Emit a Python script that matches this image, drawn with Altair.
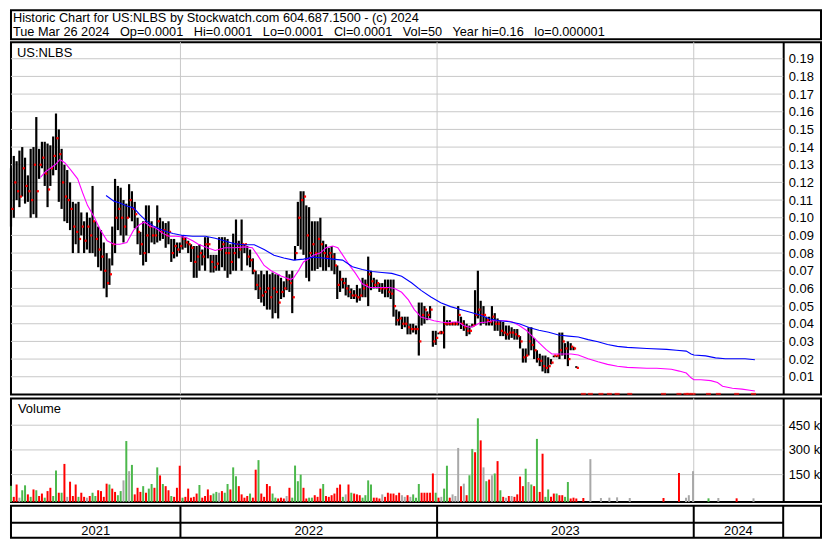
import altair as alt
import numpy as np
import pandas as pd

FONT = "Liberation Sans"
GRID = "#c8c8c8"

# ---------------- text ----------------
SEP = "\u00a0\u00a0 "
header_lines = [
    "Historic Chart for US:NLBS by Stockwatch.com 604.687.1500 - (c) 2024",
    "Tue Mar 26 2024" + SEP + "Op=0.0001" + SEP + "Hi=0.0001" + SEP + "Lo=0.0001" + SEP
    + "Cl=0.0001" + SEP + "Vol=50" + SEP + "Year hi=0.16" + SEP + "lo=0.000001",
]
symbol_label = ["US:NLBS"]
volume_label = ["Volume"]

# ---------------- price bars (one bar every 4 calendar days) ----------------
bar_start = "2021-05-05"
bar_step_days = 4

high = [
    .128, .135, .132, .138, .140, .134, .124, .139, .140, .157,
    .139, .143, .143, .142, .141, .146, .159, .150, .139, .130,
    .127, .120, .109, .108, .109, .103, .098, .103, .100, .118,
    .098, .095, .093, .086, .080, .077, .095, .122, .118, .117,
    .110, .108, .119, .115, .109, .100, .092, .098, .107, .107,
    .098, .095, .107, .100, .098, .097, .098, .088, .088, .086,
    .086, .090, .089, .087, .085, .084, .084, .085, .082, .089,
    .089, .079, .079, .079, .089, .089, .089, .088, .085, .091,
    .099, .087, .099, .085, .084, .082, .077, .070, .068, .070,
    .068, .070, .068, .069, .068, .068, .066, .064, .070, .068,
    .070, .084, .109, .115, .115, .107, .106, .098, .098, .098,
    .100, .087, .085, .083, .084, .080, .073, .070, .066, .066,
    .062, .060, .059, .062, .060, .066, .065, .078, .070, .066,
    .065, .063, .063, .065, .065, .065, .065, .048, .047, .044,
    .044, .044, .040, .040, .039, .052, .052, .050, .047, .050,
    .036, .036, .035, .036, .050, .042, .042, .041, .041, .050,
    .044, .042, .040, .039, .040, .059, .070, .053, .050, .044,
    .044, .050, .046, .043, .042, .041, .039, .039, .038, .037,
    .037, .033, .026, .026, .038, .038, .032, .025, .023, .022,
    .022, .021, .020, .022, .022, .035, .035, .029, .030, .029,
    .027, .016,
]
low = [
    .095, .100, .110, .106, .112, .108, .109, .100, .102, .100,
    .122, .128, .118, .106, .118, .124, .127, .109, .105, .098,
    .097, .093, .080, .085, .080, .090, .080, .082, .080, .080,
    .078, .072, .070, .060, .055, .062, .073, .080, .093, .090,
    .086, .090, .100, .098, .094, .085, .079, .073, .075, .080,
    .086, .085, .086, .087, .088, .083, .085, .075, .077, .078,
    .080, .082, .083, .080, .075, .066, .066, .070, .073, .070,
    .077, .069, .069, .070, .070, .072, .070, .066, .068, .070,
    .070, .077, .070, .080, .073, .072, .068, .059, .054, .052,
    .050, .048, .048, .043, .046, .043, .054, .055, .059, .058,
    .046, .076, .084, .082, .079, .066, .064, .070, .070, .071,
    .072, .070, .070, .072, .070, .068, .054, .058, .060, .056,
    .055, .054, .054, .052, .053, .055, .055, .050, .059, .060,
    .060, .058, .057, .055, .055, .054, .044, .039, .039, .037,
    .038, .034, .034, .035, .034, .022, .039, .040, .042, .043,
    .027, .028, .034, .034, .026, .039, .039, .039, .039, .039,
    .037, .036, .033, .034, .038, .039, .043, .039, .040, .039,
    .039, .039, .036, .036, .033, .033, .031, .031, .032, .031,
    .031, .026, .018, .018, .022, .025, .020, .018, .016, .013,
    .012, .012, .017, .021, .021, .020, .022, .020, .016, .025,
    .025, .015,
]
close = [
    .105, .120, .115, .112, .128, .118, .115, .110, .130, .115,
    .130, .134, .125, .116, .128, .135, .145, .136, .120, .112,
    .110, .105, .095, .092, .088, .095, .087, .095, .090, .098,
    .088, .082, .078, .070, .063, .068, .085, .100, .105, .100,
    .095, .100, .110, .105, .102, .092, .085, .080, .090, .095,
    .090, .090, .098, .092, .093, .090, .092, .080, .084, .082,
    .084, .088, .086, .085, .083, .075, .078, .080, .078, .085,
    .085, .075, .072, .074, .082, .085, .080, .080, .075, .080,
    .085, .082, .085, .085, .078, .076, .070, .062, .060, .056,
    .058, .060, .055, .060, .058, .052, .058, .060, .065, .063,
    .055, .080, .100, .110, .112, .090, .080, .085, .080, .088,
    .085, .080, .078, .080, .078, .073, .062, .065, .063, .060,
    .058, .056, .056, .055, .056, .060, .062, .068, .064, .062,
    .063, .060, .060, .060, .058, .057, .050, .042, .043, .040,
    .040, .038, .037, .037, .037, .030, .045, .048, .045, .048,
    .030, .032, .035, .035, .040, .040, .040, .040, .040, .045,
    .040, .038, .036, .036, .039, .045, .048, .045, .045, .042,
    .041, .044, .040, .040, .036, .035, .034, .035, .035, .034,
    .033, .030, .021, .022, .030, .028, .025, .020, .019, .016,
    .015, .016, .018, .022, .022, .025, .030, .026, .020, .027,
    .026, .015,
]
# volume in thousands, direction: G = up, R = down, N = unchanged
volume = [
    82, 15, 90, 10, 55, 85, 30, 15, 60, 55,
    20, 35, 10, 50, 70, 20, 175, 40, 40, 215,
    15, 107, 20, 90, 15, 40, 15, 10, 20, 40,
    20, 55, 50, 15, 95, 90, 65, 45, 25, 50,
    115, 354, 171, 209, 30, 70, 45, 80, 40, 65,
    93, 70, 194, 145, 93, 80, 55, 20, 15, 70,
    204, 10, 15, 65, 10, 15, 35, 87, 10, 20,
    60, 25, 35, 45, 40, 50, 40, 93, 60, 194,
    140, 80, 30, 10, 20, 35, 10, 180, 238, 35,
    15, 93, 80, 35, 10, 5, 10, 5, 20, 70,
    10, 205, 110, 150, 70, 5, 10, 10, 25, 15,
    65, 93, 20, 15, 25, 35, 70, 90, 15, 30,
    90, 40, 35, 30, 25, 10, 25, 115, 90, 10,
    10, 5, 30, 15, 40, 35, 35, 25, 40, 25,
    15, 25, 15, 30, 10, 93, 40, 40, 40, 40,
    157, 40, 10, 15, 65, 204, 10, 30, 20, 312,
    80, 95, 25, 146, 306, 286, 492, 358, 194, 110,
    120, 146, 157, 232, 55, 15, 10, 20, 20, 15,
    30, 138, 80, 186, 105, 90, 80, 367, 45, 277,
    15, 60, 15, 35, 35, 25, 25, 15, 105, 5,
    10, 5,
]
vol_dir = [
    "G", "R", "R", "N", "G", "G", "R", "G", "R", "G",
    "R", "R", "G", "R", "R", "G", "G", "R", "G", "R",
    "N", "R", "R", "R", "G", "R", "R", "N", "R", "G",
    "G", "R", "R", "R", "R", "G", "R", "R", "G", "G",
    "N", "G", "N", "G", "R", "R", "R", "G", "R", "G",
    "G", "R", "G", "R", "G", "R", "R", "G", "R", "R",
    "R", "G", "R", "R", "R", "R", "R", "G", "R", "R",
    "R", "R", "G", "G", "N", "R", "G", "G", "R", "G",
    "G", "R", "R", "R", "R", "G", "R", "R", "G", "R",
    "R", "R", "R", "G", "G", "R", "R", "R", "N", "R",
    "G", "G", "G", "G", "R", "R", "G", "G", "R", "R",
    "R", "G", "R", "R", "R", "R", "R", "R", "G", "N",
    "R", "G", "R", "R", "R", "G", "G", "G", "G", "R",
    "R", "R", "N", "R", "R", "R", "R", "R", "R", "N",
    "N", "R", "N", "G", "G", "G", "R", "R", "R", "R",
    "R", "G", "R", "N", "G", "G", "R", "N", "N", "N",
    "R", "N", "R", "G", "G", "R", "G", "R", "N", "G",
    "R", "N", "G", "R", "G", "R", "N", "R", "N", "R",
    "R", "R", "R", "G", "N", "G", "R", "G", "R", "R",
    "G", "G", "R", "R", "G", "R", "R", "G", "G", "R",
    "R", "R",
]

# late, near-zero trading days
late_dates = ["2023-07-28", "2023-08-07", "2023-08-22", "2023-09-03", "2023-09-14",
              "2023-10-02", "2023-11-19", "2023-12-11", "2023-12-21", "2023-12-25",
              "2023-12-31", "2024-01-22", "2024-02-05", "2024-03-02", "2024-03-26"]
late_close = [0.0003, 0.0003, 0.0003, 0.0003, 0.0003, 0.0003, 0.0003, 0.0003,
              0.0003, 0.0003, 0.0003, 0.0003, 0.0003, 0.0003, 0.0003]
late_volume = [8, 244, 8, 10, 12, 8, 8, 160, 10, 25, 171, 6, 8, 6, 6]
late_dir = ["R", "N", "N", "N", "N", "N", "R", "R", "N", "N", "N", "G", "N", "R", "N"]

# moving averages, positioned by bar index (4-day steps from bar_start)
ma_short_idx = [10.5, 12.2, 14.0, 15.7, 17.4, 19.2, 21.3, 23.7, 25.5, 27.2,
                29.7, 31.8, 34.2, 36.6, 38.7, 41.2, 43.6, 45.7, 47.5, 49.2,
                51.6, 54.1, 56.2, 58.6, 62.1, 64.6, 66.6, 69.1, 72.6, 76.1,
                79.6, 83.0, 85.8, 87.6, 90.0, 92.5, 96.0, 99.4, 100.5, 102.2,
                104.0, 105.7, 107.5, 109.9, 112.0, 114.4, 116.2, 117.9, 120.4, 122.5,
                124.9, 127.4, 130.8, 134.3, 136.4, 138.9, 141.3, 143.4, 145.8, 148.3,
                150.4, 152.8, 155.3, 157.4, 159.1, 160.9, 163.3, 165.0, 166.8, 169.2,
                171.3, 173.8, 176.2, 178.3, 180.7, 183.2, 185.3, 187.7, 190.2, 192.3,
                194.7, 199.2, 201.7, 205.2, 208.7, 212.1, 215.6, 219.1, 226.1, 229.6,
                234.8, 237.6, 240.1, 241.8, 242.8, 245.3, 248.8, 251.2, 253.0, 256.5,
                259.9, 262.7, 264.5]
ma_short_val = [.1228, .126, .128, .130, .133, .131, .127, .122, .114, .107,
                .100, .093, .087, .085, .085, .086, .093, .096, .0976, .0955,
                .094, .091, .0895, .0895, .089, .087, .085, .0835, .0815, .083,
                .083, .0835, .083, .079, .073, .070, .067, .065, .066, .070,
                .075, .0766, .0788, .080, .083, .084, .083, .079, .073, .0685,
                .0626, .0605, .0605, .0605, .060, .0578, .0535, .048, .0438, .0427,
                .0417, .041, .0406, .041, .041, .039, .0379, .039, .0406, .041,
                .0417, .0417, .0417, .041, .039, .0363, .033, .0293, .0255, .0229,
                .0229, .0229, .0223, .0202, .0185, .017, .0159, .0153, .0148, .0148,
                .0142, .0132, .0121, .0094, .0083, .0083, .0078, .0067, .0046, .0035,
                .003, .0024, .0019]
ma_long_idx = [33.8, 36.6, 38.7, 41.2, 43.6, 45.7, 48.2, 50.6, 52.7, 55.1,
               57.6, 61.1, 64.6, 69.1, 72.6, 76.1, 79.6, 83.0, 86.5, 90.0,
               93.5, 97.0, 100.5, 104.0, 107.5, 111.0, 114.4, 117.9, 121.4, 124.9,
               128.4, 131.9, 135.4, 138.9, 142.4, 145.8, 149.3, 152.8, 156.3, 159.8,
               163.3, 166.8, 170.3, 173.8, 177.3, 180.7, 184.2, 187.7, 191.2, 194.7,
               198.2, 201.7, 205.2, 208.7, 212.1, 215.6, 219.1, 226.1, 233.1, 236.6,
               240.1, 241.8, 242.8, 247.0, 250.5, 254.0, 261.0, 264.5]
ma_long_val = [.1126, .1094, .1083, .1067, .1056, .1019, .0981, .0954, .0938, .0922,
               .0911, .090, .0895, .0895, .0884, .0868, .0852, .0847, .0847, .082,
               .0788, .0772, .076, .0766, .0777, .0772, .0766, .076, .0723, .0707,
               .0696, .069, .0685, .0669, .0632, .0589, .0551, .0519, .0497, .0481,
               .0465, .0449, .0427, .0417, .0411, .040, .0379, .0363, .0352, .0336,
               .033, .0325, .031, .0298, .0282, .0272, .0266, .026, .0255, .025,
               .0245, .0229, .0223, .0218, .0207, .0202, .0202, .0196]

price_ticks = [0.01, 0.02, 0.03, 0.04, 0.05, 0.06, 0.07, 0.08, 0.09, 0.10,
               0.11, 0.12, 0.13, 0.14, 0.15, 0.16, 0.17, 0.18, 0.19]
volume_ticks = [150, 300, 450]
year_bounds = ["2022-01-01", "2023-01-01", "2024-01-01"]
year_edges = ["2021-05-05", "2022-01-01", "2023-01-01", "2024-01-01", "2024-05-07"]
year_labels = ["2021", "2022", "2023", "2024"]

# ---------------- layout ----------------
W = 814
PLOT_END = 776
H_HEAD = 29
H_PRICE = 354
H_VOL = 104
H_DATE = 32
ROW_SPLIT = 17

# ---------------- frames ----------------
start = pd.Timestamp(bar_start)
bar_dates = start + pd.to_timedelta(np.arange(len(high)) * bar_step_days, unit="D")
bars = pd.DataFrame({"date": bar_dates, "high": high, "low": low, "close": close,
                     "vol": volume, "dir": vol_dir})
late = pd.DataFrame({"date": pd.to_datetime(late_dates), "close": late_close,
                     "vol": late_volume, "dir": late_dir})
vol_df = pd.concat([bars[["date", "vol", "dir"]], late[["date", "vol", "dir"]]],
                   ignore_index=True)
ma_s = pd.DataFrame({"date": start + pd.to_timedelta(np.array(ma_short_idx) * bar_step_days, unit="D"),
                     "v": ma_short_val})
ma_l = pd.DataFrame({"date": start + pd.to_timedelta(np.array(ma_long_idx) * bar_step_days, unit="D"),
                     "v": ma_long_val})
ygrid = pd.DataFrame({"v": price_ticks})
vgrid = pd.DataFrame({"v": volume_ticks})
years = pd.DataFrame({"d": pd.to_datetime(year_bounds)})
edges = pd.to_datetime(year_edges)
year_df = pd.DataFrame({"d": edges[:-1] + (edges[1:] - edges[:-1]) / 2, "t": year_labels})

x_scale = alt.Scale(domain=[alt.DateTime(year=2021, month=5, date=5),
                            alt.DateTime(year=2024, month=6, date=30)])
X = lambda f: alt.X(f + ":T", scale=x_scale, axis=None)
y_price = alt.Scale(domain=[0, 0.1994], nice=False, zero=False)
y_vol = alt.Scale(domain=[-15.6, 613], nice=False, zero=False)

# ---------------- header ----------------
header = alt.layer(
    alt.Chart(pd.DataFrame({"t": [header_lines[0]]})).mark_text(
        align="left", baseline="alphabetic", fontSize=12.8, font=FONT, color="black"
    ).encode(x=alt.value(2), y=alt.value(12), text="t:N"),
    alt.Chart(pd.DataFrame({"t": [header_lines[1]]})).mark_text(
        align="left", baseline="alphabetic", fontSize=12.8, font=FONT, color="black"
    ).encode(x=alt.value(2), y=alt.value(26), text="t:N"),
).properties(width=W, height=H_HEAD)

# ---------------- price panel ----------------
price_axis = alt.Axis(orient="right", offset=-(W - PLOT_END), values=price_ticks, format=".2f",
                      grid=False, ticks=False, domain=True, domainColor="black", domainWidth=2,
                      labelFont=FONT, labelFontSize=13, labelColor="black", labelPadding=5,
                      labelOverlap=False, labelFlush=False, title=None)
p_grid = alt.Chart(ygrid).mark_rule(color=GRID, strokeWidth=1).encode(
    y=alt.Y("v:Q", scale=y_price, axis=price_axis), x=alt.value(0), x2=alt.value(PLOT_END))
p_vgrid = alt.Chart(years).mark_rule(color=GRID, strokeWidth=1).encode(
    x=X("d"), y=alt.value(0), y2=alt.value(H_PRICE))
p_bars = alt.Chart(bars).mark_rule(color="black", strokeWidth=2.2).encode(
    x=X("date"), y=alt.Y("high:Q", scale=y_price, axis=None), y2="low:Q")
p_close = alt.Chart(bars).mark_square(color="#ff0000", size=5, xOffset=1.5, opacity=1).encode(
    x=X("date"), y=alt.Y("close:Q", scale=y_price, axis=None))
p_late = alt.Chart(late).mark_tick(color="#ff0000", orient="horizontal", size=5, thickness=2).encode(
    x=X("date"), y=alt.Y("close:Q", scale=y_price, axis=None))
p_ma_s = alt.Chart(ma_s).mark_line(color="#ff00ff", strokeWidth=1.1).encode(
    x=X("date"), y=alt.Y("v:Q", scale=y_price, axis=None))
p_ma_l = alt.Chart(ma_l).mark_line(color="#0000ff", strokeWidth=1.1).encode(
    x=X("date"), y=alt.Y("v:Q", scale=y_price, axis=None))
p_label = alt.Chart(pd.DataFrame({"t": symbol_label})).mark_text(
    align="left", baseline="middle", fontSize=13, font=FONT, color="black"
).encode(x=alt.value(6), y=alt.value(11), text="t:N")
price = alt.layer(p_grid, p_vgrid, p_bars, p_close, p_late, p_ma_s, p_ma_l, p_label).resolve_axis(
    y="independent").properties(width=W, height=H_PRICE)

# ---------------- volume panel ----------------
vol_axis = alt.Axis(orient="right", offset=-(W - PLOT_END), values=volume_ticks,
                    labelExpr="datum.value + ' k'",
                    grid=False, ticks=False, domain=True, domainColor="black", domainWidth=2,
                    labelFont=FONT, labelFontSize=13, labelColor="black", labelPadding=5,
                    labelOverlap=False, labelFlush=False, title=None)
v_grid = alt.Chart(vgrid).mark_rule(color=GRID, strokeWidth=1).encode(
    y=alt.Y("v:Q", scale=y_vol, axis=vol_axis), x=alt.value(0), x2=alt.value(PLOT_END))
v_vgrid = alt.Chart(years).mark_rule(color=GRID, strokeWidth=1).encode(
    x=X("d"), y=alt.value(0), y2=alt.value(H_VOL))
v_bars = alt.Chart(vol_df).mark_rule(strokeWidth=2).encode(
    x=X("date"), y=alt.Y("vol:Q", scale=y_vol, axis=None), y2=alt.value(H_VOL),
    color=alt.Color("dir:N", legend=None,
                    scale=alt.Scale(domain=["G", "R", "N"], range=["#4cb84c", "#ff0000", "#a8a8a8"])))
v_label = alt.Chart(pd.DataFrame({"t": volume_label})).mark_text(
    align="left", baseline="middle", fontSize=13, font=FONT, color="black"
).encode(x=alt.value(7), y=alt.value(11), text="t:N")
vol = alt.layer(v_grid, v_vgrid, v_bars, v_label).resolve_axis(
    y="independent").properties(width=W, height=H_VOL)

# ---------------- date strip ----------------
d_mid = alt.Chart(pd.DataFrame({"t": ["row"]})).mark_rule(color="black", strokeWidth=2).encode(
    x=alt.value(0), x2=alt.value(PLOT_END), y=alt.value(ROW_SPLIT))
d_sep = alt.Chart(years).mark_rule(color="black", strokeWidth=2).encode(
    x=X("d"), y=alt.value(0), y2=alt.value(H_DATE))
d_end = alt.Chart(pd.DataFrame({"t": ["end"]})).mark_rule(color="black", strokeWidth=2).encode(
    x=alt.value(PLOT_END), y=alt.value(0), y2=alt.value(H_DATE))
d_text = alt.Chart(year_df).mark_text(
    align="center", baseline="middle", fontSize=13, font=FONT, color="black"
).encode(x=X("d"), y=alt.value((ROW_SPLIT + H_DATE) / 2 + 1), text="t:N")
dates = alt.layer(d_mid, d_sep, d_end, d_text).properties(width=W, height=H_DATE)

chart = alt.vconcat(header, price, vol, dates, spacing=0).properties(
    padding=0, background="white"
).configure(font=FONT).configure_view(stroke="black", strokeWidth=2)

chart.save("out.html", embed_options={"renderer": "svg", "actions": False})
